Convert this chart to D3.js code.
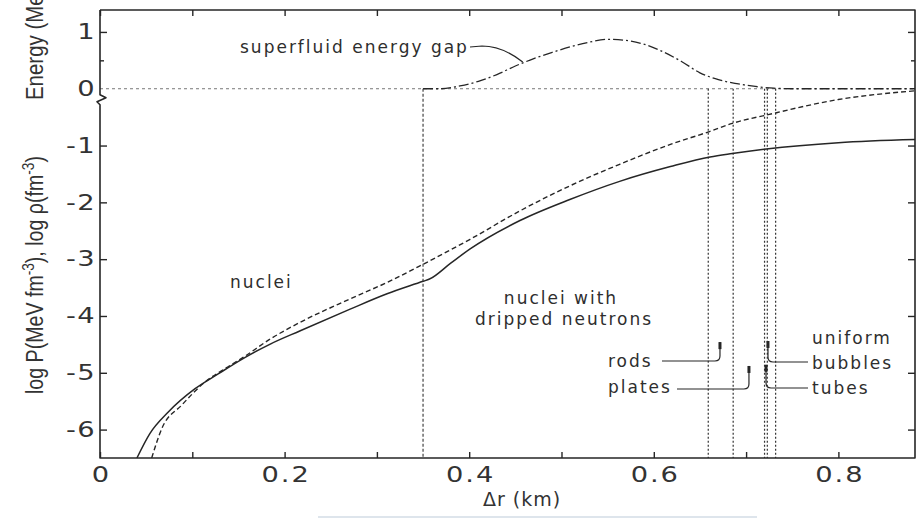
<!DOCTYPE html>
<html><head><meta charset="utf-8">
<script src="https://cdn.jsdelivr.net/npm/d3@7"></script>
<style>
body{margin:0;background:#fff;}
svg{display:block;}
</style></head><body>
<svg id="c" width="916" height="518"></svg>
<script>
// ---------------- data ----------------
const xTickValues = [0, 0.1, 0.2, 0.3, 0.4, 0.5, 0.6, 0.7, 0.8];
const xLabelValues = [0, 0.2, 0.4, 0.6, 0.8];
const xLabelText = ["0", "0.2", "0.4", "0.6", "0.8"];
const yMajorValues = [1, -1, -2, -3, -4, -5, -6];
const yLabelValues = [1, 0, -1, -2, -3, -4, -5, -6];
const yLabelText = ["1", "0", "-1", "-2", "-3", "-4", "-5", "-6"];
const yMinorValues = [0.5];

// solid curve (log P)
const solidX = [0.040, 0.054, 0.074, 0.103, 0.128, 0.155, 0.185, 0.217, 0.271, 0.311, 0.350, 0.357, 0.380, 0.401, 0.455, 0.509, 0.563, 0.618, 0.661, 0.685, 0.722, 0.800, 0.884];
const solidY = [-6.5, -6.07, -5.69, -5.28, -5.02, -4.75, -4.49, -4.26, -3.88, -3.61, -3.39, -3.35, -3.07, -2.82, -2.32, -1.95, -1.63, -1.37, -1.20, -1.14, -1.06, -0.95, -0.895];
// dashed curve (log rho)
const dashX = [0.056, 0.067, 0.0885, 0.114, 0.135, 0.155, 0.185, 0.217, 0.271, 0.311, 0.350, 0.401, 0.455, 0.509, 0.563, 0.618, 0.661, 0.685, 0.724, 0.800, 0.884];
const dashY = [-6.5, -5.98, -5.57, -5.16, -4.93, -4.73, -4.40, -4.11, -3.70, -3.41, -3.09, -2.65, -2.15, -1.71, -1.33, -0.98, -0.75, -0.61, -0.456, -0.19, -0.035];
// superfluid energy gap (MeV)
const gapX = [0.350, 0.370, 0.390, 0.410, 0.430, 0.450, 0.470, 0.490, 0.510, 0.530, 0.550, 0.570, 0.590, 0.610, 0.630, 0.650, 0.670, 0.690, 0.710, 0.730, 0.750, 0.800, 0.884];
const gapY = [0, 0, 0.05, 0.13, 0.25, 0.40, 0.53, 0.64, 0.74, 0.82, 0.87, 0.85, 0.78, 0.65, 0.48, 0.28, 0.16, 0.09, 0.04, 0.01, 0, 0, 0];
// phase boundaries
const dripBoundary = 0.35;
const phaseBounds = [0.659, 0.686, 0.720, 0.723, 0.732];

// ---------------- layout ----------------
const L = 100, R = 915, T = 10, B = 458;
const x = d3.scaleLinear().domain([0, 0.883]).range([L, R]);
const y = d3.scaleLinear().domain([-6.5, 1.386]).range([B, T]);
const ink = "#262626";

const svg = d3.select("#c");
svg.append("defs").append("clipPath").attr("id", "clip")
  .append("rect").attr("x", L).attr("y", T).attr("width", R - L).attr("height", B - T);

// zero baseline (dotted)
svg.append("line").attr("x1", L).attr("x2", R).attr("y1", y(0)).attr("y2", y(0))
  .attr("stroke", "#777").attr("stroke-width", 1).attr("stroke-dasharray", "3,3");

// neutron drip boundary
svg.append("line").attr("x1", x(dripBoundary)).attr("x2", x(dripBoundary))
  .attr("y1", y(0)).attr("y2", B).attr("stroke", "#444").attr("stroke-width", 1.2)
  .attr("stroke-dasharray", "3,2");

// pasta phase boundaries
svg.selectAll(".pb").data(phaseBounds).enter().append("line")
  .attr("x1", d => x(d)).attr("x2", d => x(d)).attr("y1", y(0)).attr("y2", B)
  .attr("stroke", "#333").attr("stroke-width", 1.2).attr("stroke-dasharray", "2,2");

const zip = (a, b) => a.map((v, i) => [v, b[i]]);
const line = d3.line().x(d => x(d[0])).y(d => y(d[1])).curve(d3.curveMonotoneX);
const g = svg.append("g").attr("clip-path", "url(#clip)");
g.append("path").attr("d", line(zip(solidX, solidY))).attr("fill", "none")
  .attr("stroke", ink).attr("stroke-width", 1.5);
g.append("path").attr("d", line(zip(dashX, dashY))).attr("fill", "none")
  .attr("stroke", ink).attr("stroke-width", 1.4).attr("stroke-dasharray", "5,3");
g.append("path").attr("d", line(zip(gapX, gapY))).attr("fill", "none")
  .attr("stroke", ink).attr("stroke-width", 1.3).attr("stroke-dasharray", "10,3,2,3");

// ---------------- axes ----------------
function styleAxis(sel) {
  sel.select(".domain").remove();
  sel.selectAll(".tick line").attr("stroke", ink).attr("stroke-width", 1.4);
}
const fmtX = d => { const i = xLabelValues.findIndex(v => Math.abs(v - d) < 1e-9); return i < 0 ? "" : xLabelText[i]; };
const fmtY = d => { const i = yLabelValues.findIndex(v => Math.abs(v - d) < 1e-9); return i < 0 ? "" : yLabelText[i]; };

const ax = svg.append("g").attr("transform", `translate(0,${B})`)
  .call(d3.axisBottom(x).tickValues(xTickValues).tickSize(-6).tickPadding(9).tickFormat(fmtX));
styleAxis(ax);
ax.selectAll(".tick text").attr("font-family", "DejaVu Sans").attr("font-size", 21)
  .attr("fill", "#333").style("letter-spacing", "1.5px").attr("dx", 0.75)
  .attr("transform", "scale(1.3,1)");

svg.append("g").attr("transform", `translate(0,${T})`)
  .call(d3.axisTop(x).tickValues(xTickValues).tickSize(-6).tickFormat(""))
  .call(styleAxis);

const ay = svg.append("g").attr("transform", `translate(${L},0)`)
  .call(d3.axisLeft(y).tickValues(yLabelValues).tickSize(-7).tickPadding(6).tickFormat(fmtY));
styleAxis(ay);
ay.selectAll(".tick").filter(d => d === 0).select("line").remove();
ay.selectAll(".tick text").attr("font-family", "DejaVu Sans").attr("font-size", 21)
  .attr("fill", "#333").style("letter-spacing", "1px").attr("dx", 1).attr("x", -4.2)
  .attr("transform", "scale(1.3,1)");

svg.append("g").attr("transform", `translate(${L},0)`)
  .call(d3.axisLeft(y).tickValues(yMinorValues).tickSize(-4).tickFormat(""))
  .call(styleAxis);

svg.append("g").attr("transform", `translate(${R},0)`)
  .call(d3.axisRight(y).tickValues(yMajorValues).tickSize(-7).tickFormat(""))
  .call(styleAxis);
svg.append("g").attr("transform", `translate(${R},0)`)
  .call(d3.axisRight(y).tickValues(yMinorValues).tickSize(-4).tickFormat(""))
  .call(styleAxis);

// frame with axis break on the left
const yb = y(0) + 6;
svg.append("path")
  .attr("d", `M${L},${T}H${R}V${B}H${L}V${yb + 10}L${L - 3},${yb + 7}L${L + 6},${yb + 3}L${L},${yb}V${T}`)
  .attr("fill", "none").attr("stroke", ink).attr("stroke-width", 1.6).attr("stroke-linejoin", "round");

// ---------------- titles ----------------
svg.append("text").attr("x", 522).attr("y", 506).attr("text-anchor", "middle")
  .attr("font-family", "DejaVu Sans").attr("font-size", 19).attr("fill", "#333")
  .style("letter-spacing", "1px").text("\u0394r (km)");

const yt = svg.append("text").attr("transform", "translate(43,275) rotate(-90)")
  .attr("text-anchor", "middle").attr("font-family", "Liberation Sans").attr("font-size", 23)
  .attr("fill", "#333").attr("textLength", 238).attr("lengthAdjust", "spacingAndGlyphs");
yt.append("tspan").text("log P(MeV fm");
yt.append("tspan").attr("dy", -9).attr("font-size", 16).text("-3");
yt.append("tspan").attr("dy", 9).text("), log \u03c1(fm");
yt.append("tspan").attr("dy", -9).attr("font-size", 16).text("-3");
yt.append("tspan").attr("dy", 9).text(")");

svg.append("text").attr("transform", "translate(43,100) rotate(-90)")
  .attr("font-family", "Liberation Sans").attr("font-size", 23).attr("fill", "#333")
  .attr("textLength", 126).attr("lengthAdjust", "spacingAndGlyphs").text("Energy (MeV)");

// ---------------- annotations ----------------
function label(txt, px, py, anchor) {
  svg.append("text").attr("x", px).attr("y", py).attr("text-anchor", anchor || "start")
    .attr("font-family", "DejaVu Sans").attr("font-size", 17).attr("fill", "#2e2e2e")
    .style("letter-spacing", "2px").text(txt);
}
label("superfluid energy gap", 240, 53);
label("nuclei", 230, 288);
label("nuclei with", 561, 304, "middle");
label("dripped neutrons", 564, 325, "middle");
label("rods", 608, 367);
label("plates", 608, 393);
label("uniform", 812, 344);
label("bubbles", 812, 369);
label("tubes", 812, 394);

const leaderStyle = p => p.attr("fill", "none").attr("stroke", ink).attr("stroke-width", 1.2);
// superfluid leader
svg.append("path").attr("d", `M470,47L482,46C497,46 510,52 ${x(0.458)},${y(0.47)}`).call(leaderStyle);

function leader(startPx, lineY, tipX, tipY) {
  const tx = x(tipX), ty = y(tipY), r = 5;
  const dir = startPx < tx ? 1 : -1;
  svg.append("path")
    .attr("d", `M${startPx},${lineY}H${tx - dir * r}Q${tx},${lineY} ${tx},${lineY - r}V${ty}`)
    .call(leaderStyle);
  svg.append("line").attr("x1", tx).attr("x2", tx).attr("y1", ty).attr("y2", ty + 7)
    .attr("stroke", ink).attr("stroke-width", 3);
}
leader(662, 361, 0.6717, -4.46);
leader(677, 389, 0.7031, -4.88);
leader(808, 362, 0.7237, -4.44);
leader(808, 388, 0.7216, -4.86);

// scan artifact line at the bottom
svg.append("line").attr("x1", 318).attr("x2", 757).attr("y1", 517).attr("y2", 517)
  .attr("stroke", "#d3dce6").attr("stroke-width", 1.5);
</script>
</body></html>
